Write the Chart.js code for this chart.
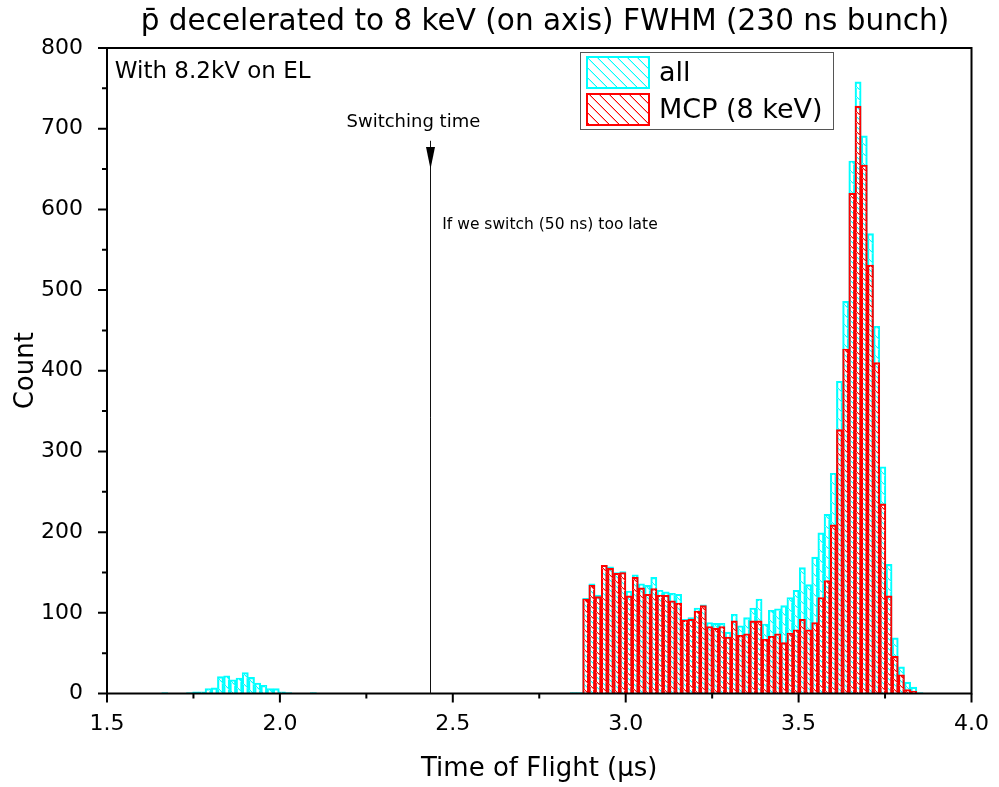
<!DOCTYPE html>
<html>
<head>
<meta charset="utf-8">
<title>pbar time of flight</title>
<script src="https://cdn.jsdelivr.net/npm/chart.js@4.4.1/dist/chart.umd.min.js"></script>
<style>
  html, body { margin: 0; padding: 0; background: #fff; }
  #wrap { width: 999px; height: 787px; }
</style>
</head>
<body>
<div id="wrap"><canvas id="tofChart" width="999" height="787"></canvas></div>
<script>
// histogram binning (µs): left edge of bin 0 and bin width
const binStart = 2.8754;
const binWidth = 0.0179;

// "all" counts, early bump, bins -68 .. -44
const allEarlyFirstBin = -68;
const allEarly = [1, 0, 0, 0, 1, 2, 2, 6, 7, 21, 22, 17, 19, 26, 20, 13, 10, 6, 6, 2, 1, 0, 0, 0, 1];

// "all" counts, main region, bins -2 .. 54
const allMainFirstBin = -2;
const allMain = [1, 1,
  118, 136, 122, 159, 157, 150, 151, 127, 147, 136,
  134, 144, 128, 126, 124, 123, 92, 94, 106, 110,
  88, 87, 87, 76, 98, 84, 94, 106, 117, 86,
  103, 105, 109, 119, 128, 156, 135, 169, 199, 222,
  273, 387, 486, 660, 758, 691, 570, 455, 281, 160,
  69, 33, 14, 8,
  1];

// "MCP (8 keV)" counts, bins 0 .. 53
const mcpFirstBin = 0;
const mcpCounts = [
  117, 134, 120, 159, 155, 149, 150, 121, 144, 131,
  123, 130, 122, 122, 115, 112, 91, 92, 102, 109,
  83, 81, 83, 70, 90, 72, 74, 90, 90, 67,
  71, 74, 63, 75, 79, 92, 79, 88, 119, 140,
  209, 327, 427, 620, 728, 655, 531, 410, 235, 121,
  46, 23, 5, 3];

const xTicks = [1.5, 2.0, 2.5, 3.0, 3.5, 4.0];
const yTicks = [0, 100, 200, 300, 400, 500, 600, 700, 800];

const titleText = 'p\u0304 decelerated to 8 keV (on axis) FWHM (230 ns bunch)';
const switchTime = 2.4355;   // µs, arrow position
const noteText = 'With 8.2kV on EL';
const switchLabel = 'Switching time';
const lateLabel = 'If we switch (50 ns) too late';

const CYAN = '#00FFFF';
const RED = '#FF0000';
const FONT = 'DejaVu Sans';

function toPoints(firstBin, counts) {
  return counts.map((c, k) => ({ x: binStart + (firstBin + k + 0.5) * binWidth, y: c }));
}

// "\" hatch on a transparent tile: a solid pixel with a light shade under it
function hatch(color, shade, shift) {
  const size = 10;
  const c = document.createElement('canvas');
  c.width = size; c.height = size;
  const g = c.getContext('2d');
  for (let i = 0; i < size; i++) {
    const yy = (i + shift) % size;
    g.fillStyle = color;
    g.fillRect(i, yy, 1, 1);
    g.fillStyle = shade;
    g.fillRect(i, (yy + 1) % size, 1, 1);
  }
  return g.createPattern(c, 'repeat');
}

const cyanHatch = hatch(CYAN, '#b0ffff', 0);
const redHatch = hatch(RED, '#ffb0b0', 5);

const decorations = {
  id: 'decorations',
  afterDatasetsDraw(chart) {
    const { ctx, chartArea: a, scales: { x, y } } = chart;
    ctx.save();

    // frame
    ctx.strokeStyle = '#000';
    ctx.lineWidth = 2;
    ctx.strokeRect(a.left, a.top, a.right - a.left, a.bottom - a.top);

    // outward ticks, major + minor
    ctx.beginPath();
    const xv = x.ticks.map(t => t.value);
    xv.forEach((v, i) => {
      const px = x.getPixelForValue(v);
      ctx.moveTo(px, a.bottom); ctx.lineTo(px, a.bottom + 9);
      if (i < xv.length - 1) {
        const pm = x.getPixelForValue((v + xv[i + 1]) / 2);
        ctx.moveTo(pm, a.bottom); ctx.lineTo(pm, a.bottom + 5);
      }
    });
    const yv = y.ticks.map(t => t.value);
    yv.forEach((v, i) => {
      const py = y.getPixelForValue(v);
      ctx.moveTo(a.left, py); ctx.lineTo(a.left - 9, py);
      if (i < yv.length - 1) {
        const pm = y.getPixelForValue((v + yv[i + 1]) / 2);
        ctx.moveTo(a.left, pm); ctx.lineTo(a.left - 5, pm);
      }
    });
    ctx.stroke();

    // switching time arrow
    const sx = Math.round(x.getPixelForValue(switchTime)) + 0.5;
    const top = y.getPixelForValue(685);
    const tip = y.getPixelForValue(650);
    ctx.strokeStyle = '#111';
    ctx.lineWidth = 1;
    ctx.beginPath();
    ctx.moveTo(sx, top);
    ctx.lineTo(sx, a.bottom);
    ctx.stroke();
    ctx.fillStyle = '#000';
    ctx.beginPath();
    ctx.moveTo(sx - 4.5, tip - 22);
    ctx.lineTo(sx + 4.5, tip - 22);
    ctx.lineTo(sx, tip);
    ctx.closePath();
    ctx.fill();

    // texts
    ctx.fillStyle = '#000';
    ctx.textBaseline = 'middle';
    ctx.font = '18px "' + FONT + '"';
    ctx.textAlign = 'center';
    ctx.fillText(switchLabel, x.getPixelForValue(2.386), y.getPixelForValue(708));
    ctx.font = '15.5px "' + FONT + '"';
    ctx.textAlign = 'left';
    ctx.fillText(lateLabel, x.getPixelForValue(2.4695), y.getPixelForValue(581));
    ctx.font = '23px "' + FONT + '"';
    ctx.fillText(noteText, x.getPixelForValue(1.5225), y.getPixelForValue(770));

    // title
    ctx.font = '29.5px "' + FONT + '"';
    ctx.textAlign = 'center';
    ctx.fillText(titleText, 545, 22);

    // legend box
    const lx = 580.5, ly = 52.5, lw = 253, lh = 77;
    ctx.fillStyle = '#fff';
    ctx.fillRect(lx, ly, lw, lh);
    ctx.strokeStyle = '#555';
    ctx.lineWidth = 1;
    ctx.strokeRect(lx, ly, lw, lh);
    const items = [[chart.data.datasets[0], 56], [chart.data.datasets[1], 93]];
    items.forEach(([ds, sy]) => {
      ctx.fillStyle = ds.backgroundColor;
      ctx.fillRect(586, sy, 64, 33);
      ctx.strokeStyle = ds.borderColor;
      ctx.lineWidth = 2;
      ctx.strokeRect(587, sy + 1, 62, 31);
      ctx.fillStyle = '#000';
      ctx.font = '27px "' + FONT + '"';
      ctx.textAlign = 'left';
      ctx.fillText(ds.label, 659, sy + 18);
    });

    ctx.restore();
  }
};

Chart.defaults.font.family = FONT;
Chart.defaults.color = '#000';

new Chart(document.getElementById('tofChart'), {
  type: 'bar',
  data: {
    datasets: [
      {
        label: 'all',
        data: toPoints(allEarlyFirstBin, allEarly).concat(toPoints(allMainFirstBin, allMain)),
        backgroundColor: cyanHatch,
        borderColor: CYAN,
        borderWidth: 1.5,
        borderSkipped: 'start',
        grouped: false,
        barPercentage: 1,
        categoryPercentage: 1,
        order: 2
      },
      {
        label: 'MCP (8 keV)',
        data: toPoints(mcpFirstBin, mcpCounts),
        backgroundColor: redHatch,
        borderColor: RED,
        borderWidth: 1.5,
        borderSkipped: 'start',
        grouped: false,
        barPercentage: 1,
        categoryPercentage: 1,
        order: 1
      }
    ]
  },
  options: {
    responsive: false,
    animation: false,
    events: [],
    layout: { padding: { top: 48, right: 24, bottom: 0, left: 0 } },
    plugins: {
      legend: { display: false },
      title: { display: false },
      tooltip: { enabled: false }
    },
    scales: {
      x: {
        type: 'linear',
        offset: false,
        min: xTicks[0],
        max: xTicks[xTicks.length - 1],
        afterBuildTicks: s => { s.ticks = xTicks.map(v => ({ value: v })); },
        afterFit: s => { s.height = 93.5; },
        grid: { display: false },
        border: { display: false },
        ticks: {
          font: { size: 22 },
          padding: 10,
          maxRotation: 0,
          autoSkip: false,
          callback: v => v.toFixed(1)
        },
        title: {
          display: true,
          text: 'Time of Flight (µs)',
          font: { size: 26 },
          padding: { top: 0, bottom: 2 }
        }
      },
      y: {
        min: yTicks[0],
        max: yTicks[yTicks.length - 1],
        afterBuildTicks: s => { s.ticks = yTicks.map(v => ({ value: v })); },
        afterFit: s => { s.width = 107; },
        grid: { display: false },
        border: { display: false },
        ticks: {
          font: { size: 22 },
          padding: 16
        },
        title: {
          display: true,
          text: 'Count',
          font: { size: 26 },
          padding: { top: 11, bottom: 0 }
        }
      }
    }
  },
  plugins: [decorations]
});
</script>
</body>
</html>
